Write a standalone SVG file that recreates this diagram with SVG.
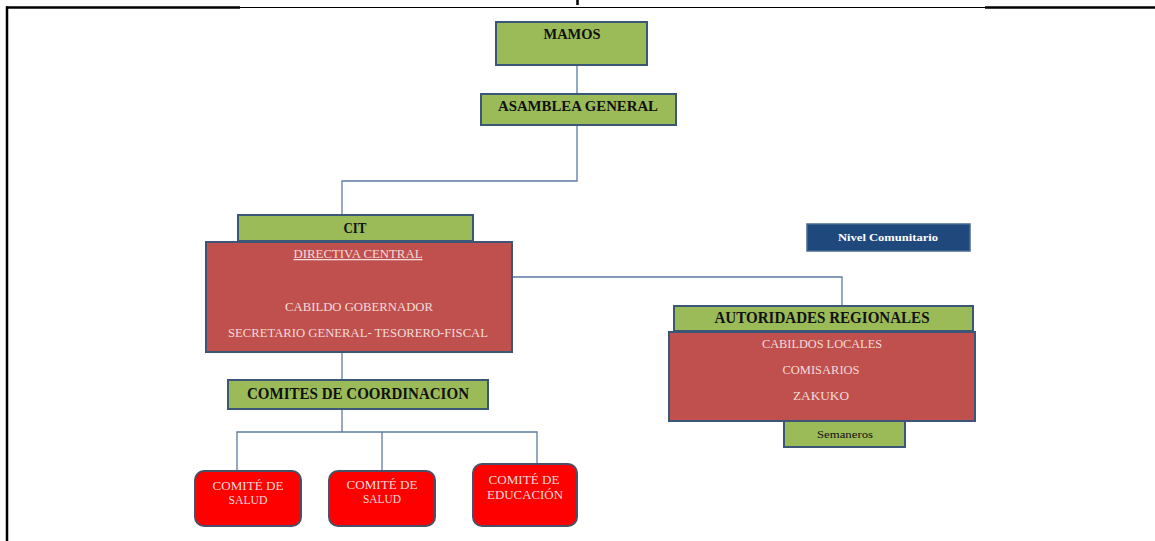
<svg xmlns="http://www.w3.org/2000/svg" width="1155" height="541" viewBox="0 0 1155 541">
<style>
.frame{stroke:#000;fill:none}
.g{fill:#9BBB59;stroke:#3B5677;stroke-width:2}
.r{fill:#C0504D;stroke:#3B5677;stroke-width:2}
.rr{fill:#FF0000;stroke:#4A5068;stroke-width:2}
.b{fill:#1F497D;stroke:#4A6A90;stroke-width:1.5}
.conn{stroke:#5B7BA3;stroke-width:1.3;fill:none}
.tg{font-family:"Liberation Serif",serif;font-weight:bold;fill:#111;text-anchor:middle}
.tn{font-family:"Liberation Serif",serif;fill:#111;text-anchor:middle}
.tr{font-family:"Liberation Serif",serif;fill:#F2DCDB;text-anchor:middle}
.tw{font-family:"Liberation Serif",serif;font-weight:bold;fill:#FFFFFF;text-anchor:middle}
</style>
<rect width="1155" height="541" fill="#FFFFFF"/>
<g id="frame">
<line class="frame" x1="6" y1="7.5" x2="240" y2="7.5" stroke-width="2.5"/>
<line class="frame" x1="240" y1="7.5" x2="985" y2="7.5" stroke-width="1.2"/>
<line class="frame" x1="985" y1="7.5" x2="1155" y2="7.5" stroke-width="2.5"/>
<line class="frame" x1="7" y1="6.5" x2="7" y2="541" stroke-width="2.5"/>
<line class="frame" x1="577.5" y1="0" x2="577.5" y2="5" stroke-width="2.5"/>
</g>
<g id="connectors">
<line class="conn" x1="577" y1="65" x2="577" y2="94"/>
<polyline class="conn" points="577,125 577,181 342,181 342,215"/>
<polyline class="conn" points="512,277 842,277 842,305"/>
<line class="conn" x1="342" y1="352" x2="342" y2="380"/>
<line class="conn" x1="342" y1="409" x2="342" y2="432"/>
<polyline class="conn" points="237,471 237,432 537,432 537,464"/>
<line class="conn" x1="382" y1="432" x2="382" y2="471"/>
</g>
<g id="mamos">
<rect class="g" x="496" y="22" width="151" height="43"/>
<text class="tg" x="572" y="39" font-size="14" textLength="57" lengthAdjust="spacingAndGlyphs">MAMOS</text>
</g>
<g id="asamblea">
<rect class="g" x="481" y="94" width="195" height="31"/>
<text class="tg" x="578" y="111" font-size="14" textLength="160" lengthAdjust="spacingAndGlyphs">ASAMBLEA GENERAL</text>
</g>
<g id="cit">
<rect class="g" x="238" y="215" width="235" height="26"/>
<text class="tg" x="355" y="232.5" font-size="15" textLength="23" lengthAdjust="spacingAndGlyphs">CIT</text>
</g>
<g id="directiva">
<rect class="r" x="206" y="242" width="306" height="110"/>
<text class="tr" x="358" y="258" font-size="12.5" text-decoration="underline" textLength="129" lengthAdjust="spacingAndGlyphs">DIRECTIVA CENTRAL</text>
<text class="tr" x="359" y="311" font-size="12.5" textLength="148" lengthAdjust="spacingAndGlyphs">CABILDO GOBERNADOR</text>
<text class="tr" x="358" y="337" font-size="12.5" textLength="260" lengthAdjust="spacingAndGlyphs">SECRETARIO GENERAL- TESORERO-FISCAL</text>
</g>
<g id="nivel">
<rect class="b" x="807" y="224" width="163" height="27"/>
<text class="tw" x="888" y="241" font-size="11" textLength="100" lengthAdjust="spacingAndGlyphs">Nivel Comunitario</text>
</g>
<g id="autoridades">
<rect class="g" x="674" y="306" width="299" height="25"/>
<text class="tg" x="822" y="323" font-size="16" textLength="215" lengthAdjust="spacingAndGlyphs">AUTORIDADES REGIONALES</text>
</g>
<g id="cabildos">
<rect class="r" x="669" y="332" width="306" height="89"/>
<text class="tr" x="822" y="348" font-size="12.5" textLength="120" lengthAdjust="spacingAndGlyphs">CABILDOS LOCALES</text>
<text class="tr" x="821" y="374" font-size="12.5" textLength="77" lengthAdjust="spacingAndGlyphs">COMISARIOS</text>
<text class="tr" x="821" y="400" font-size="12.5" textLength="56" lengthAdjust="spacingAndGlyphs">ZAKUKO</text>
</g>
<g id="semaneros">
<rect class="g" x="784" y="421" width="121" height="26"/>
<text class="tn" x="845" y="437.5" font-size="11" textLength="56" lengthAdjust="spacingAndGlyphs">Semaneros</text>
</g>
<g id="comites">
<rect class="g" x="228" y="380" width="260" height="29"/>
<text class="tg" x="358" y="398.5" font-size="16" textLength="222" lengthAdjust="spacingAndGlyphs">COMITES DE COORDINACION</text>
</g>
<g id="comite-salud-1">
<rect class="rr" x="195" y="471" width="106" height="55" rx="9"/>
<text class="tr" x="248" y="490" font-size="11.5" textLength="71" lengthAdjust="spacingAndGlyphs">COMITÉ DE</text>
<text class="tr" x="248" y="504" font-size="11.5" textLength="39" lengthAdjust="spacingAndGlyphs">SALUD</text>
</g>
<g id="comite-salud-2">
<rect class="rr" x="329" y="471" width="106" height="55" rx="9"/>
<text class="tr" x="382" y="489" font-size="11.5" textLength="71" lengthAdjust="spacingAndGlyphs">COMITÉ DE</text>
<text class="tr" x="382" y="503" font-size="11.5" textLength="38" lengthAdjust="spacingAndGlyphs">SALUD</text>
</g>
<g id="comite-educacion">
<rect class="rr" x="473" y="464" width="104" height="62" rx="9"/>
<text class="tr" x="524" y="484" font-size="11.5" textLength="71" lengthAdjust="spacingAndGlyphs">COMITÉ DE</text>
<text class="tr" x="525" y="499" font-size="11.5" textLength="76" lengthAdjust="spacingAndGlyphs">EDUCACIÓN</text>
</g>
</svg>
